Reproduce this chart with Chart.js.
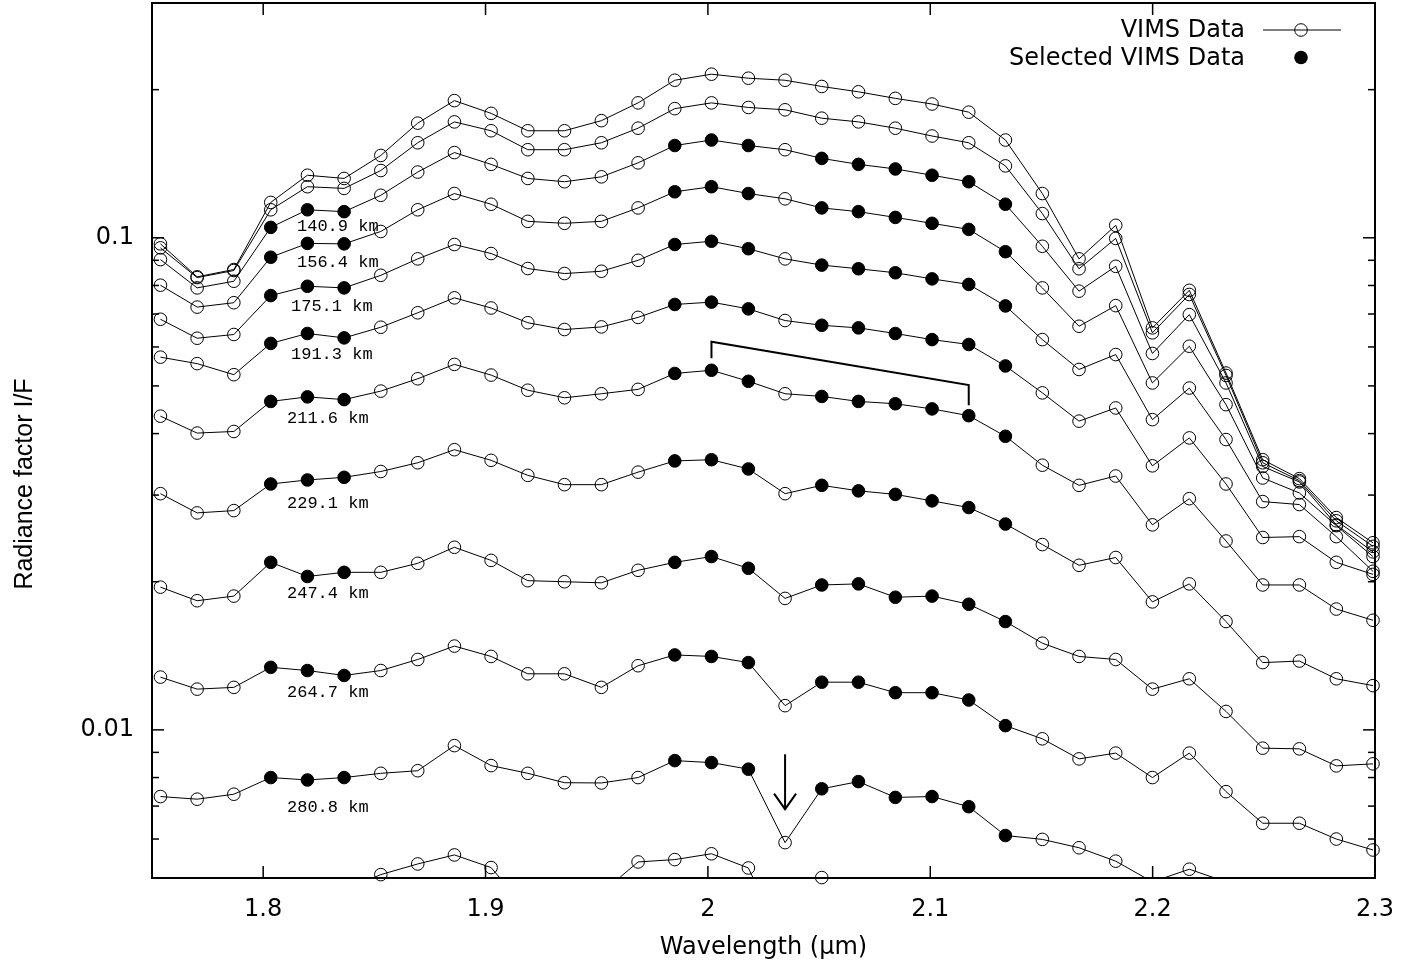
<!DOCTYPE html>
<html><head><meta charset="utf-8">
<script src="https://cdn.jsdelivr.net/npm/chart.js@4.4.1/dist/chart.umd.min.js"></script>
<style>html,body{margin:0;padding:0;background:#fff;}canvas{display:block;}</style>
</head><body>
<canvas id="c" width="1421" height="965"></canvas>
<script>
// ---- data ----
const wavelengths = [1.7538,1.7703,1.7868,1.8034,1.8199,1.8364,1.8529,1.8695,1.8860,1.9025,1.9190,1.9355,1.9521,1.9686,1.9851,2.0016,2.0182,2.0347,2.0512,2.0677,2.0843,2.1008,2.1173,2.1338,2.1504,2.1669,2.1834,2.1999,2.2165,2.2330,2.2495,2.2660,2.2826,2.2991];

const spectrumA = [0.0972,0.0833,0.0862,0.118,0.134,0.132,0.147,0.171,0.190,0.179,0.165,0.165,0.173,0.188,0.209,0.215,0.211,0.209,0.203,0.198,0.192,0.187,0.180,0.158,0.123,0.0906,0.106,0.0656,0.0782,0.0531,0.0354,0.0324,0.0270,0.0240];
const spectrumB = [0.0954,0.0830,0.0858,0.114,0.127,0.126,0.137,0.156,0.172,0.165,0.151,0.151,0.156,0.167,0.183,0.188,0.184,0.182,0.175,0.172,0.167,0.161,0.156,0.140,0.112,0.0865,0.0997,0.0641,0.0767,0.0525,0.0349,0.0321,0.0266,0.0236];
const spectrum1409 = [0.0903,0.0791,0.0816,0.105,0.114,0.113,0.122,0.136,0.149,0.141,0.132,0.130,0.133,0.142,0.154,0.158,0.154,0.151,0.145,0.141,0.138,0.134,0.130,0.117,0.0961,0.0779,0.0875,0.0582,0.0698,0.0507,0.0343,0.0319,0.0261,0.0230];
const spectrum1564 = [0.0801,0.0723,0.0738,0.0913,0.0974,0.0972,0.103,0.114,0.123,0.117,0.108,0.107,0.108,0.115,0.124,0.127,0.123,0.120,0.115,0.113,0.110,0.107,0.104,0.0937,0.0791,0.0661,0.0728,0.0507,0.0602,0.0458,0.0325,0.0303,0.0260,0.0225];
const spectrum1751 = [0.0683,0.0625,0.0636,0.0763,0.0797,0.0791,0.0839,0.0906,0.0969,0.0929,0.0866,0.0846,0.0855,0.0900,0.0969,0.0984,0.0950,0.0906,0.0880,0.0865,0.0849,0.0825,0.0804,0.0727,0.0621,0.0540,0.0579,0.0427,0.0495,0.0389,0.0291,0.0287,0.0247,0.0210];
const spectrum1913 = [0.0572,0.0555,0.0527,0.0610,0.0639,0.0626,0.0658,0.0704,0.0755,0.0720,0.0672,0.0651,0.0659,0.0689,0.0732,0.0740,0.0717,0.0679,0.0664,0.0656,0.0639,0.0621,0.0607,0.0549,0.0484,0.0424,0.0451,0.0344,0.0392,0.0316,0.0246,0.0247,0.0219,0.0207];
const spectrum2116 = [0.0434,0.0401,0.0404,0.0465,0.0475,0.0469,0.0488,0.0517,0.0553,0.0526,0.0490,0.0473,0.0482,0.0492,0.0530,0.0538,0.0511,0.0482,0.0476,0.0465,0.0460,0.0449,0.0435,0.0395,0.0345,0.0314,0.0328,0.0261,0.0295,0.0242,0.0197,0.0197,0.0176,0.0167];
const spectrum2291 = [0.0302,0.0276,0.0279,0.0316,0.0322,0.0326,0.0335,0.0349,0.0371,0.0353,0.0329,0.0315,0.0315,0.0334,0.0352,0.0354,0.0339,0.0302,0.0314,0.0306,0.0301,0.0292,0.0283,0.0262,0.0238,0.0216,0.0224,0.0182,0.0198,0.0166,0.0137,0.0138,0.0127,0.0123];
const spectrum2474 = [0.0195,0.0183,0.0187,0.0219,0.0205,0.0209,0.0209,0.0218,0.0235,0.0221,0.0201,0.0200,0.0199,0.0211,0.0219,0.0225,0.0213,0.0185,0.0197,0.0198,0.0186,0.0187,0.0180,0.0166,0.0150,0.0141,0.0139,0.0121,0.0127,0.0109,0.00918,0.00915,0.00845,0.00853];
const spectrum2647 = [0.0128,0.0121,0.0122,0.0134,0.0132,0.0129,0.0132,0.0139,0.0148,0.0141,0.0130,0.0130,0.0122,0.0135,0.0142,0.0141,0.0137,0.0112,0.0125,0.0125,0.0119,0.0119,0.0115,0.0102,0.00959,0.00873,0.00897,0.00800,0.00897,0.00749,0.00646,0.00646,0.00600,0.00570];
const spectrum2808 = [0.00732,0.00723,0.00740,0.00800,0.00791,0.00800,0.00816,0.00826,0.00929,0.00846,0.00816,0.00781,0.00780,0.00800,0.00866,0.00858,0.00832,0.00590,0.00759,0.00785,0.00729,0.00732,0.00698,0.00610,0.00599,0.00576,0.00541,0.00491,0.00521,0.00491,0.00427,0.00427,0.00396,0.00374];
const spectrumC = [0.00441,0.00435,0.00445,0.00473,0.00469,0.00473,0.00508,0.00534,0.00557,0.00525,0.00429,0.00441,0.00466,0.00539,0.00545,0.00560,0.00524,0.00365,0.00501,0.00473,0.00455,0.00457,0.00437,0.00383,0.00374,0.00360,0.00341,0.00310,0.00325,0.00303,0.00270,0.00270,0.00251,0.00240];

const spectra = [spectrumA, spectrumB, spectrum1409, spectrum1564, spectrum1751, spectrum1913, spectrum2116, spectrum2291, spectrum2474, spectrum2647, spectrum2808, spectrumC];
const hasSelection = [false, false, true, true, true, true, true, true, true, true, true, false];
const selectedChannels = [3, 4, 5, 14, 15, 16, 18, 19, 20, 21, 22, 23];

const altitudeLabels = ['140.9 km','156.4 km','175.1 km','191.3 km','211.6 km','229.1 km','247.4 km','264.7 km','280.8 km'];
const altitudeLabelWavelengths = [1.8152,1.8152,1.8125,1.8125,1.8107,1.8107,1.8107,1.8107,1.8107];
const altitudeLabelValues = [0.1055,0.0890,0.0726,0.0579,0.0429,0.0288,0.0189,0.0119,0.00696];

const bracketWavelengths = [2.0016, 2.0016, 2.1173, 2.1173];
const bracketValues = [0.0569, 0.0615, 0.0502, 0.0457];
const arrowWavelength = 2.0347;
const arrowFromValue = 0.00892;
const arrowToValue = 0.00690;

const xTickValues = [1.8, 1.9, 2.0, 2.1, 2.2, 2.3];
const xTickLabels = ['1.8', '1.9', '2', '2.1', '2.2', '2.3'];
const yTickValues = [0.01, 0.1];
const yTickLabels = ['0.01', '0.1'];
const legendLabels = ['VIMS Data', 'Selected VIMS Data'];
const xTitle = 'Wavelength (\u03bcm)';
const yTitle = 'Radiance factor I/F';

const X_MIN = 1.75, X_MAX = 2.3, Y_MIN = 0.005, Y_MAX = 0.3;

// ---- chart ----
const datasets = [];
spectra.forEach((vals, s) => {
  const pts = vals.map((v, i) => ({x: wavelengths[i], y: v}));
  datasets.push({
    data: pts, borderColor: '#000', borderWidth: 1, pointRadius: 0,
    fill: false, tension: 0, showLine: true
  });
  datasets.push({
    data: pts, showLine: false, clip: false,
    pointRadius: ctx => (ctx.raw && ctx.raw.y >= Y_MIN) ? 6.3 : 0,
    pointBorderWidth: 1, pointBorderColor: '#000',
    pointBackgroundColor: ctx => (hasSelection[s] && selectedChannels.includes(ctx.dataIndex)) ? '#000' : 'rgba(255,255,255,0)'
  });
});

const overlay = {
  id: 'overlay',
  afterDatasetsDraw(chart) {
    const {ctx, chartArea: a, scales: {x, y}} = chart;
    ctx.save();
    ctx.strokeStyle = '#000';
    ctx.fillStyle = '#000';
    const seg = (x1, y1, x2, y2) => { ctx.beginPath(); ctx.moveTo(x1, y1); ctx.lineTo(x2, y2); ctx.stroke(); };
    // ticks
    ctx.lineWidth = 1.5;
    xTickValues.forEach(v => {
      const px = x.getPixelForValue(v);
      seg(px, a.bottom, px, a.bottom - 12);
      seg(px, a.top, px, a.top + 12);
    });
    for (let k = -3; k <= 0; k++) {
      for (let m = 1; m <= 9; m++) {
        const v = m * Math.pow(10, k);
        if (v < Y_MIN * 0.999 || v > Y_MAX * 1.001) continue;
        const major = (m === 1);
        const len = major ? 12 : 7;
        const py = y.getPixelForValue(v);
        seg(a.left, py, a.left + len, py);
        seg(a.right, py, a.right - len, py);
      }
    }
    // border
    ctx.lineWidth = 2;
    ctx.strokeRect(a.left, a.top, a.right - a.left, a.bottom - a.top);

    // altitude labels
    ctx.font = '17px "Liberation Mono"';
    ctx.textAlign = 'left';
    ctx.textBaseline = 'middle';
    altitudeLabels.forEach((t, i) => {
      ctx.fillText(t, x.getPixelForValue(altitudeLabelWavelengths[i]), y.getPixelForValue(altitudeLabelValues[i]));
    });

    // bracket
    ctx.lineWidth = 2;
    ctx.beginPath();
    ctx.moveTo(x.getPixelForValue(bracketWavelengths[0]), y.getPixelForValue(bracketValues[0]));
    for (let i = 1; i < bracketWavelengths.length; i++) {
      ctx.lineTo(x.getPixelForValue(bracketWavelengths[i]), y.getPixelForValue(bracketValues[i]));
    }
    ctx.stroke();

    // arrow
    const ax = x.getPixelForValue(arrowWavelength);
    const ay1 = y.getPixelForValue(arrowFromValue), ay2 = y.getPixelForValue(arrowToValue);
    seg(ax, ay1, ax, ay2);
    ctx.beginPath();
    ctx.moveTo(ax - 11, ay2 - 15.5); ctx.lineTo(ax, ay2); ctx.lineTo(ax + 11, ay2 - 15.5);
    ctx.stroke();

    // legend
    ctx.font = '24px "DejaVu Sans"';
    ctx.textAlign = 'right';
    ctx.textBaseline = 'middle';
    const lx = a.right - 130;
    ctx.fillText(legendLabels[0], lx, 31);
    ctx.fillText(legendLabels[1], lx, 58.5);
    ctx.lineWidth = 1;
    seg(lx + 18, 30, lx + 96, 30);
    ctx.beginPath(); ctx.arc(lx + 56, 30, 6.3, 0, Math.PI * 2); ctx.stroke();
    ctx.beginPath(); ctx.arc(lx + 56, 57.5, 6.8, 0, Math.PI * 2); ctx.fill();

    // axis titles
    ctx.textAlign = 'center';
    ctx.font = '24px "DejaVu Sans"';
    ctx.fillText(xTitle, (a.left + a.right) / 2, 948);
    ctx.save();
    ctx.translate(25, 484);
    ctx.rotate(-Math.PI / 2);
    ctx.font = '25px "Liberation Sans"';
    ctx.fillText(yTitle, 0, 0);
    ctx.restore();
    ctx.restore();
  }
};

new Chart(document.getElementById('c'), {
  type: 'scatter',
  data: {datasets},
  options: {
    responsive: false, animation: false, devicePixelRatio: 1, events: [],
    layout: {autoPadding: false, padding: {left: 0, right: 46, top: 3, bottom: 0}},
    plugins: {legend: {display: false}, tooltip: {enabled: false}},
    scales: {
      x: {
        type: 'linear', min: X_MIN, max: X_MAX,
        grid: {display: false, drawTicks: false}, border: {display: false},
        ticks: {color: '#000', font: {family: 'DejaVu Sans', size: 24}, padding: 17, maxRotation: 0, autoSkip: false,
                callback: (v, i) => xTickLabels[i]},
        afterBuildTicks: s => { s.ticks = xTickValues.map(v => ({value: v})); },
        afterFit: s => { s.height = 87; s.paddingLeft = 0; s.paddingRight = 0; }
      },
      y: {
        type: 'logarithmic', min: Y_MIN, max: Y_MAX,
        grid: {display: false, drawTicks: false}, border: {display: false},
        ticks: {color: '#000', font: {family: 'DejaVu Sans', size: 24}, padding: 18, autoSkip: false,
                callback: (v, i) => yTickLabels[i]},
        afterBuildTicks: s => { s.ticks = yTickValues.map(v => ({value: v})); },
        afterFit: s => { s.width = 152; s.paddingTop = 0; s.paddingBottom = 0; }
      }
    }
  },
  plugins: [overlay]
});
</script></body></html>
